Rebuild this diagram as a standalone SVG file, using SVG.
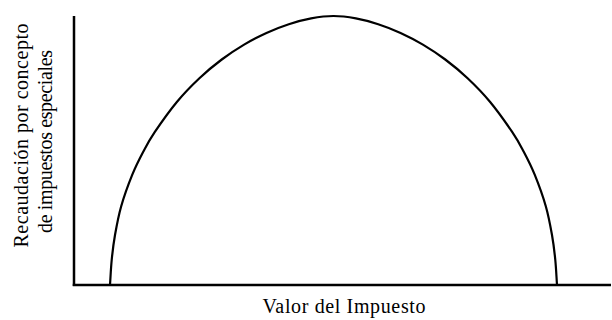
<svg xmlns="http://www.w3.org/2000/svg" width="612" height="320" viewBox="0 0 612 320">
<style>
.lbl{font-family:"Liberation Serif","Times New Roman",serif;font-size:20px;fill:#000;text-anchor:middle}
.ax{stroke:#000;stroke-width:2.5;fill:none}
.cv{stroke:#000;stroke-width:2.2;fill:none;stroke-linejoin:round;stroke-linecap:round}
</style>
<defs>
<path id="half" class="cv" d="M110,285 C110.57,276.67 110.87,268.33 111.7,260 C112.53,251.67 113.42,243.97 115,235 C116.58,226.03 118.32,216.27 121.2,206.2 C124.08,196.13 128.58,183.77 132.3,174.6 C136.02,165.43 139.77,158.28 143.5,151.2 C147.23,144.12 149.11,140.35 154.7,132.1 C160.29,123.85 169.6,110.68 177.05,101.7 C184.5,92.72 191.95,85.23 199.4,78.2 C206.85,71.17 214.3,65.1 221.75,59.5 C229.2,53.9 236.65,49.03 244.1,44.6 C251.55,40.17 259,36.3 266.45,32.9 C273.9,29.5 281.35,26.62 288.8,24.2 C296.25,21.78 303.7,19.77 311.15,18.4 C318.6,17.03 326.05,16 333.5,16"/>
</defs>
<rect width="612" height="320" fill="#fff"/>
<g id="axes">
<line class="ax" x1="74" y1="16" x2="74" y2="286"/>
<line class="ax" x1="72.75" y1="285" x2="611" y2="285"/>
</g>
<g id="curve">
<use href="#half"/>
<use href="#half" transform="translate(667,0) scale(-1,1)"/>
</g>
<g id="ylabel">
<text class="lbl" transform="translate(28,135.5) rotate(-90)" textLength="224">Recaudación por concepto</text>
<text class="lbl" transform="translate(52,141.5) rotate(-90)" textLength="183">de impuestos especiales</text>
</g>
<g id="xlabel">
<text class="lbl" x="344" y="313" textLength="163">Valor del Impuesto</text>
</g>
</svg>
